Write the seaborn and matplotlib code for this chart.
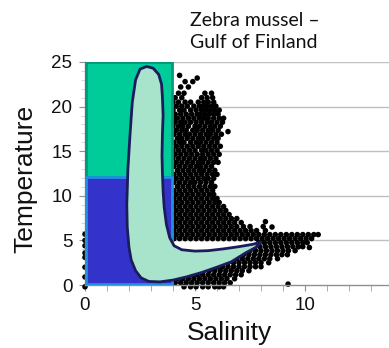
import numpy as np
import pandas as pd
import matplotlib
matplotlib.use("Agg")
import matplotlib.pyplot as plt
from matplotlib.patches import Rectangle, Polygon
from matplotlib.ticker import MultipleLocator
import seaborn as sns

# ---------------- data ----------------
title_lines = ["Zebra mussel \u2013", "Gulf of Finland"]
x_label = "Salinity"
y_label = "Temperature"
x_ticks = [0, 5, 10]
y_ticks = [0, 5, 10, 15, 20, 25]

# observation cloud: one row of salinity values per temperature level
row_temp = [22.8, 22.2, 21.5, 21.0, 20.5, 20.05, 19.6, 19.15, 18.7, 18.25,
            17.8, 17.35, 16.9, 16.45, 16.0, 15.55, 15.1, 14.65, 14.2, 13.75,
            13.3, 12.85, 12.4, 11.95, 11.5, 11.05, 10.6, 10.15, 9.7, 9.25,
            8.8, 8.35, 7.9, 7.45, 7.0, 6.55, 6.1, 5.65, 5.2,
            4.75, 4.3, 3.85, 3.4, 2.95, 2.5, 2.05, 1.6, 1.15, 0.7, 0.25, -0.2]
row_sal = [
    [4.55, 4.9],
    [4.35, 4.7],
    [4.25, 4.5, 5.45, 5.75],
    [4.1, 4.4, 5.3, 5.55, 5.8],
    [4.0, 4.25, 4.55, 4.8, 5.15, 5.4, 5.6, 5.85],
    [4.15, 4.4, 4.65, 4.95, 5.2, 5.35, 5.55, 5.75, 5.95],
    [4.0, 4.3, 4.5, 4.8, 5.05, 5.3, 5.5, 5.7, 5.9, 6.1],
    [4.1, 4.35, 4.6, 4.85, 5.1, 5.25, 5.45, 5.65, 5.85, 6.05],
    [4.0, 4.2, 4.45, 4.7, 4.95, 5.2, 5.4, 5.6, 5.85, 6.1, 6.3],
    [4.1, 4.35, 4.55, 4.8, 5.05, 5.3, 5.55, 5.75, 6.0, 6.25],
    [4.0, 4.25, 4.45, 4.7, 5.0, 5.2, 5.45, 5.7, 5.9, 6.15],
    [4.15, 4.4, 4.6, 4.9, 5.1, 5.35, 5.6, 5.8, 6.05],
    [4.05, 4.3, 4.55, 4.75, 5.0, 5.25, 5.5, 5.7, 5.95, 6.2],
    [4.2, 4.4, 4.65, 4.9, 5.15, 5.35, 5.6, 5.85, 6.05],
    [4.05, 4.3, 4.5, 4.8, 5.05, 5.25, 5.5, 5.75, 6.0],
    [4.15, 4.4, 4.65, 4.9, 5.15, 5.4, 5.65, 5.9, 6.15],
    [4.0, 4.25, 4.5, 4.75, 5.0, 5.3, 5.5, 5.75, 6.0],
    [4.1, 4.35, 4.6, 4.85, 5.1, 5.35, 5.6, 5.85, 6.1],
    [4.0, 4.25, 4.5, 4.75, 5.0, 5.25, 5.45, 5.7, 5.95],
    [4.15, 4.4, 4.65, 4.9, 5.15, 5.35, 5.6, 5.85, 6.05],
    [4.05, 4.3, 4.55, 4.8, 5.05, 5.25, 5.5, 5.75],
    [4.2, 4.45, 4.7, 4.95, 5.2, 5.4, 5.65, 5.9],
    [4.05, 4.3, 4.55, 4.8, 5.05, 5.3, 5.55, 5.8, 6.0],
    [4.15, 4.4, 4.65, 4.9, 5.15, 5.4, 5.6, 5.85],
    [4.05, 4.3, 4.55, 4.8, 5.0, 5.25, 5.5, 5.75],
    [4.2, 4.45, 4.7, 4.95, 5.2, 5.45, 5.7, 5.9],
    [4.05, 4.3, 4.55, 4.8, 5.05, 5.3, 5.55, 5.8],
    [4.15, 4.4, 4.65, 4.9, 5.15, 5.4, 5.65, 5.85],
    [4.05, 4.3, 4.55, 4.8, 5.05, 5.3, 5.55, 5.8, 6.0],
    [4.15, 4.4, 4.65, 4.9, 5.15, 5.4, 5.65, 5.9, 6.1],
    [4.05, 4.3, 4.55, 4.8, 5.05, 5.3, 5.55, 5.8, 6.05, 6.3],
    [4.15, 4.4, 4.65, 4.9, 5.15, 5.4, 5.65, 5.9, 6.15, 6.4],
    [4.05, 4.3, 4.55, 4.8, 5.05, 5.3, 5.55, 5.8, 6.05, 6.3, 6.55],
    [4.15, 4.4, 4.65, 4.9, 5.15, 5.4, 5.65, 5.9, 6.15, 6.4, 6.65, 6.9],
    [4.05, 4.3, 4.55, 4.8, 5.05, 5.3, 5.55, 5.8, 6.05, 6.3, 6.55, 6.8, 7.1],
    [4.15, 4.4, 4.65, 4.9, 5.15, 5.4, 5.65, 5.9, 6.15, 6.4, 6.65, 6.9, 7.2,
     7.5, 8.1],
    [4.05, 4.3, 4.55, 4.8, 5.05, 5.3, 5.55, 5.8, 6.05, 6.3, 6.55, 6.8, 7.05,
     7.3, 7.55, 7.8, 8.2],
    [4.15, 4.4, 4.65, 4.9, 5.15, 5.4, 5.65, 5.9, 6.15, 6.4, 6.65, 6.9, 7.15,
     7.4, 7.65, 7.9, 8.15, 8.4, 8.65, 8.9, 9.15, 9.4, 9.65, 9.9, 10.15,
     10.4, 10.6],
    [4.05, 4.3, 4.55, 4.8, 5.05, 5.3, 5.55, 5.8, 6.05, 6.3, 6.55, 6.8, 7.05,
     7.3, 7.55, 7.8, 8.05, 8.3, 8.55, 8.8, 9.05, 9.3, 9.55, 9.8, 10.05,
     10.3],
    [7.9, 8.15, 8.4, 8.65, 8.9, 9.15, 9.4, 9.65, 9.9, 10.1],
    [7.7, 7.95, 8.2, 8.45, 8.7, 8.95, 9.2, 9.45, 9.7, 9.9],
    [7.5, 7.75, 8.0, 8.25, 8.5, 8.75, 9.0, 9.25, 9.55],
    [7.2, 7.45, 7.7, 7.95, 8.2, 8.45, 8.7, 8.95, 9.2],
    [6.9, 7.15, 7.4, 7.65, 7.9, 8.15, 8.4, 8.75],
    [6.5, 6.75, 7.0, 7.25, 7.5, 7.75, 8.0, 8.35],
    [6.0, 6.25, 6.5, 6.75, 7.0, 7.25, 7.5, 7.75, 8.0],
    [5.4, 5.65, 5.9, 6.15, 6.4, 6.65, 6.9, 7.15, 7.45],
    [4.6, 4.85, 5.1, 5.35, 5.6, 5.85, 6.1, 6.35, 6.6, 6.85, 7.1],
    [4.2, 4.45, 4.7, 4.95, 5.2, 5.45, 5.7, 5.95, 6.2, 6.45, 6.8],
    [4.1, 4.35, 4.6, 4.85, 5.1, 5.35, 5.6, 5.85, 6.1, 6.35, 6.6],
    [4.5, 4.8, 5.05, 5.35, 5.6, 5.9, 6.1, 6.3],
]
# scattered single observations
extra_sal = [0.0, 0.0, 0.0, 0.0, 0.0, 0.0, 0.0, 0.0, 9.23, 10.2, 8.2, 8.5,
             9.7, 4.3, 5.1, 6.5]
extra_temp = [-0.2, 0.9, 2.0, 3.1, 3.6, 4.4, 5.0, 5.7, 0.1, 4.2, 7.1, 6.5,
              4.3, 23.5, 23.2, 17.2]

# habitat boxes: (salinity from, salinity to, temperature from, temperature to)
warm_box = (0.05, 3.95, 12.1, 25.0)
cold_box = (0.05, 3.95, 0.1, 12.1)

# tolerance envelope outline (salinity, temperature)
env_sal = [2.8, 3.1, 3.35, 3.48, 3.52, 3.55, 3.52, 3.5, 3.52, 3.55, 3.6,
           3.7, 3.85, 4.05, 4.4, 5.0, 5.6, 6.3, 7.0, 7.6, 8.0, 7.75, 7.3,
           6.65, 6.0, 5.3, 4.6, 4.0, 3.4, 2.9, 2.55, 2.3, 2.1, 2.0, 1.92,
           1.9, 1.95, 2.05, 2.15, 2.3, 2.5]
env_temp = [24.5, 24.3, 23.6, 22.5, 21.0, 19.0, 17.0, 14.5, 12.5, 10.5, 8.7,
            6.8, 5.3, 4.4, 3.95, 3.8, 3.85, 4.05, 4.3, 4.55, 4.8, 4.2, 3.6,
            2.6, 2.0, 1.4, 0.9, 0.55, 0.35, 0.4, 0.8, 1.6, 2.8, 4.2, 6.5,
            9.0, 13.0, 17.0, 20.5, 23.0, 24.2]

# ---------------- build table ----------------
sal_all, temp_all = [], []
for t, xs in zip(row_temp, row_sal):
    sal_all += xs
    temp_all += [t] * len(xs)
sal_all += extra_sal
temp_all += extra_temp
df = pd.DataFrame({"Salinity": sal_all, "Temperature": temp_all})

# ---------------- figure ----------------
sns.set_theme(style="white")
plt.rcParams["font.family"] = ["Liberation Sans", "DejaVu Sans"]

fig = plt.figure(figsize=(3.89, 3.48), dpi=100)
ax = fig.add_axes([85 / 389, 63 / 348, 1 - 85 / 389, (285 - 62) / 348])

ax.set_xlim(0, (389 - 85) / 22.0)
ax.set_ylim(0, 25)

for yv in y_ticks[1:]:
    ax.axhline(yv, color="#c0c0c0", lw=1.0, zorder=0)

sns.scatterplot(data=df, x="Salinity", y="Temperature", ax=ax, color="black",
                s=16, edgecolor="none", linewidth=0, clip_on=False, zorder=2,
                legend=False)

x0, x1, y0, y1 = warm_box
ax.add_patch(Rectangle((x0, y0), x1 - x0, y1 - y0, facecolor="#00cc99",
                       edgecolor="#009977", lw=2, zorder=3))
x0, x1, y0, y1 = cold_box
ax.add_patch(Rectangle((x0, y0), x1 - x0, y1 - y0, facecolor="#3333cc",
                       edgecolor="#1e90dd", lw=2, zorder=3))

ax.add_patch(Polygon(np.column_stack([env_sal, env_temp]), closed=True,
                     facecolor="#a8e4cc", edgecolor="#1c1c5c", lw=2.0,
                     joinstyle="round", zorder=4))

# axes styling
for s in ["top", "right"]:
    ax.spines[s].set_visible(False)
ax.spines["left"].set_color("#909090")
ax.spines["bottom"].set_color("#909090")
ax.spines["left"].set_linewidth(1.0)
ax.spines["bottom"].set_linewidth(1.0)

ax.set_xticks(x_ticks)
ax.set_xticklabels([str(v) for v in x_ticks])
ax.set_yticks(y_ticks)
ax.set_yticklabels([str(v) for v in y_ticks])
ax.xaxis.set_minor_locator(MultipleLocator(1))
ax.yaxis.set_minor_locator(MultipleLocator(1))
ax.tick_params(axis="both", which="major", labelsize=13.5, colors="#909090",
               labelcolor="#111111", length=4, width=0.8, direction="out",
               bottom=True, left=True)
ax.tick_params(axis="x", which="minor", colors="#a0a0a0", length=4,
               width=0.6, direction="out", bottom=True)
ax.tick_params(axis="y", which="minor", colors="#c8c8c8", length=3,
               width=0.5, direction="out", left=True)
ax.tick_params(axis="x", which="major", pad=5)
ax.tick_params(axis="y", which="major", pad=5)

ax.set_xlabel(x_label, fontsize=19, color="#111111")
ax.set_ylabel(y_label, fontsize=19, color="#111111")
ax.xaxis.set_label_coords((229 - 85) / (389 - 85), -(333 - 285) / 223, transform=ax.transAxes)
ax.yaxis.set_label_coords(-(85 - 25) / (389 - 85), (285 - 179) / 223, transform=ax.transAxes)
ax.xaxis.label.set_va("center")
ax.yaxis.label.set_va("center")
ax.xaxis.label.set_ha("center")

fig.text(190 / 389, 1 - 20 / 348, title_lines[0], fontsize=14, family=["Lato", "DejaVu Sans"],
         ha="left", va="center", color="#111111")
fig.text(190 / 389, 1 - 43 / 348, title_lines[1], fontsize=14, family=["Lato", "DejaVu Sans"],
         ha="left", va="center", color="#111111")

fig.savefig("out.png", dpi=100)
